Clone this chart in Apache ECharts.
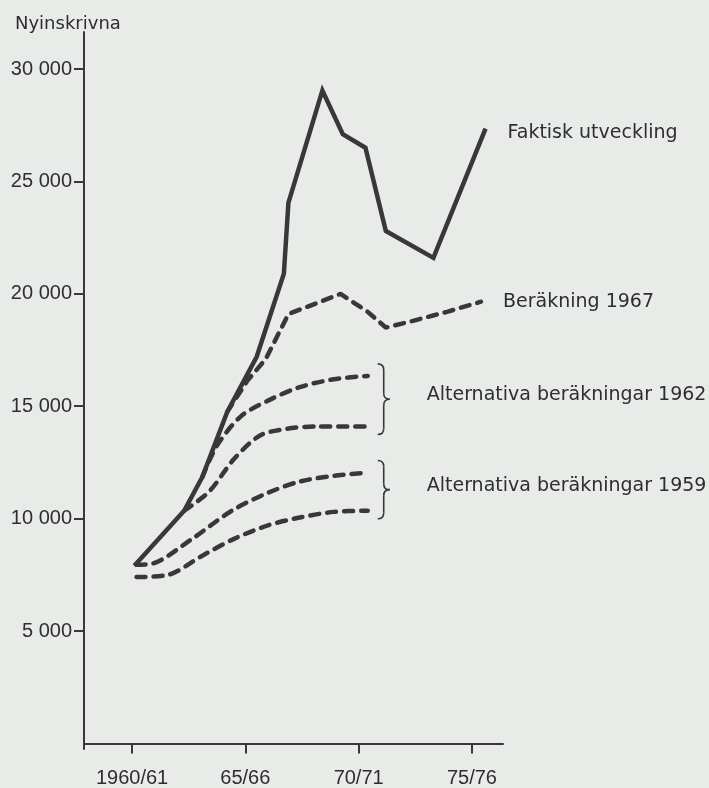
<!DOCTYPE html>
<html>
<head>
<meta charset="utf-8">
<script src="https://cdn.jsdelivr.net/npm/echarts@6/dist/echarts.min.js"></script>
<style>
  html, body { margin: 0; padding: 0; background: #e8ebe8; }
  #main { width: 709px; height: 788px; }
</style>
</head>
<body>
<div id="main"></div>
<script>
// x ticks (academic years) and y ticks
const tickYears = [1960, 1965, 1970, 1975]
const tickLabels = ['1960/61', '65/66', '70/71', '75/76']
const yTicks = [5000, 10000, 15000, 20000, 25000, 30000]

// Faktisk utveckling
const faktiskYears = [1960.1, 1962.3, 1963.1, 1964.2, 1965.5, 1966.7, 1966.9, 1968.4, 1969.3, 1970.3, 1971.2, 1973.3, 1975.6]
const faktiskValues = [7900, 10350, 11850, 14750, 17200, 20900, 24050, 29050, 27100, 26500, 22800, 21600, 27350]

// Beräkning 1967
const ber1967Years = [1964.2, 1965.1, 1965.9, 1966.9, 1969.2, 1970.4, 1971.2, 1972.4, 1973.9, 1975.4]
const ber1967Values = [14750, 16150, 17100, 19100, 20000, 19200, 18500, 18800, 19200, 19650]

// Alternativa beräkningar 1962 (upper / lower)
const alt1962aYears = [1963.1, 1963.75, 1964.8, 1966.0, 1967.4, 1968.9, 1970.4]
const alt1962aValues = [11850, 13250, 14550, 15250, 15850, 16200, 16350]
const alt1962bYears = [1962.3, 1963.4, 1964.5, 1965.65, 1966.85, 1968.15, 1970.4]
const alt1962bValues = [10350, 11200, 12650, 13700, 14000, 14100, 14100]

// Alternativa beräkningar 1959 (upper / lower)
const alt1959aYears = [1960.2, 1960.9, 1962.65, 1964.4, 1966.0, 1967.4, 1968.9, 1970.4]
const alt1959aValues = [7950, 8000, 9100, 10350, 11150, 11650, 11900, 12050]
const alt1959bYears = [1960.2, 1961.6, 1963.1, 1964.5, 1966.0, 1967.4, 1968.9, 1970.4]
const alt1959bValues = [7400, 7500, 8350, 9100, 9700, 10050, 10300, 10350]

const ink = '#38383a'
const labelFont = 'DejaVu Sans'
const numFont = 'Liberation Sans'

const pairs = (xs, ys) => xs.map((x, i) => [x, ys[i]])

const dashed = (name, xs, ys, smooth) => ({
  name: name,
  type: 'line',
  symbol: 'none',
  smooth: smooth,
  silent: true,
  lineStyle: { color: ink, width: 4.5, type: [9, 8], cap: 'round' },
  data: pairs(xs, ys),
})

const chart = echarts.init(document.getElementById('main'))

const option = {
  backgroundColor: '#e8ebe8',
  animation: false,
  title: {
    text: 'Nyinskrivna',
    left: 10,
    top: 10,
    textStyle: { fontFamily: labelFont, fontSize: 18, fontWeight: 'normal', color: '#2e2e30' },
  },
  grid: { left: 84, right: 206, top: 32, bottom: 36 },
  xAxis: {
    type: 'value',
    min: 1957.88,
    max: 1976.37,
    splitLine: { show: false },
    axisLine: { show: true, lineStyle: { color: ink, width: 2 } },
    axisTick: { show: true, customValues: tickYears, length: 10, lineStyle: { color: ink, width: 2 } },
    axisLabel: {
      customValues: tickYears,
      margin: 19,
      fontFamily: numFont,
      fontSize: 20,
      color: '#2e2e30',
      formatter: (v) => tickLabels[tickYears.indexOf(Math.round(v))] || '',
    },
  },
  yAxis: {
    type: 'value',
    min: -250,
    max: 31650,
    splitLine: { show: false },
    axisLine: { show: true, lineStyle: { color: ink, width: 2 } },
    axisTick: { show: true, customValues: yTicks, length: 10, lineStyle: { color: ink, width: 2 } },
    axisLabel: {
      customValues: yTicks,
      margin: 12,
      fontFamily: numFont,
      fontSize: 20,
      color: '#2e2e30',
      formatter: (v) => String(v).replace(/(\d)(?=(\d{3})+$)/g, '$1 '),
    },
  },
  series: [
    dashed('Alternativa 1959 lägre', alt1959bYears, alt1959bValues, 0.3),
    dashed('Alternativa 1959 högre', alt1959aYears, alt1959aValues, 0.3),
    dashed('Alternativa 1962 lägre', alt1962bYears, alt1962bValues, 0.3),
    dashed('Alternativa 1962 högre', alt1962aYears, alt1962aValues, 0.3),
    Object.assign(dashed('Beräkning 1967', ber1967Years, ber1967Values, false), {
      endLabel: {
        show: true,
        formatter: '{a}',
        distance: 22,
        fontFamily: labelFont,
        fontSize: 19,
        color: '#2e2e30',
      },
    }),
    {
      name: 'Faktisk utveckling',
      type: 'line',
      symbol: 'none',
      silent: true,
      z: 5,
      lineStyle: { color: ink, width: 4.5, join: 'miter' },
      endLabel: {
        show: true,
        formatter: '{a}',
        distance: 22,
        offset: [0, 4],
        fontFamily: labelFont,
        fontSize: 19,
        color: '#2e2e30',
      },
      data: pairs(faktiskYears, faktiskValues),
    },
  ],
}

chart.setOption(option)

// braces + labels for the two groups of alternative calculations
function brace(upperYears, upperValues, lowerYears, lowerValues, text) {
  const pu = chart.convertToPixel({ gridIndex: 0 }, [upperYears[upperYears.length - 1], upperValues[upperValues.length - 1]])
  const pl = chart.convertToPixel({ gridIndex: 0 }, [lowerYears[lowerYears.length - 1], lowerValues[lowerValues.length - 1]])
  const x0 = pu[0] + 10
  const top = pu[1] - 12
  const bot = pl[1] + 8
  const mid = (top + bot) / 2
  const w = 12
  const r = 6
  const xm = x0 + w / 2
  const st = { fill: 'none', stroke: ink, lineWidth: 1.6 }
  const curve = (x1, y1, cx, cy, x2, y2) => ({
    type: 'bezierCurve',
    shape: { x1: x1, y1: y1, cpx1: cx, cpy1: cy, x2: x2, y2: y2 },
    style: st,
    silent: true,
  })
  const seg = (x1, y1, x2, y2) => ({
    type: 'line',
    shape: { x1: x1, y1: y1, x2: x2, y2: y2 },
    style: st,
    silent: true,
  })
  return [
    curve(x0, top, xm, top, xm, top + r),
    seg(xm, top + r, xm, mid - r),
    curve(xm, mid - r, xm, mid, x0 + w, mid),
    curve(x0 + w, mid, xm, mid, xm, mid + r),
    seg(xm, mid + r, xm, bot - r),
    curve(xm, bot - r, xm, bot, x0, bot),
    {
      type: 'text',
      x: x0 + w + 37,
      y: mid - 4,
      style: {
        text: text,
        fontFamily: labelFont,
        fontSize: 19,
        fill: '#2e2e30',
        verticalAlign: 'middle',
      },
      silent: true,
    },
  ]
}

chart.setOption({
  graphic: [].concat(
    brace(alt1962aYears, alt1962aValues, alt1962bYears, alt1962bValues, 'Alternativa beräkningar 1962'),
    brace(alt1959aYears, alt1959aValues, alt1959bYears, alt1959bValues, 'Alternativa beräkningar 1959')
  ),
})
</script>
</body>
</html>
